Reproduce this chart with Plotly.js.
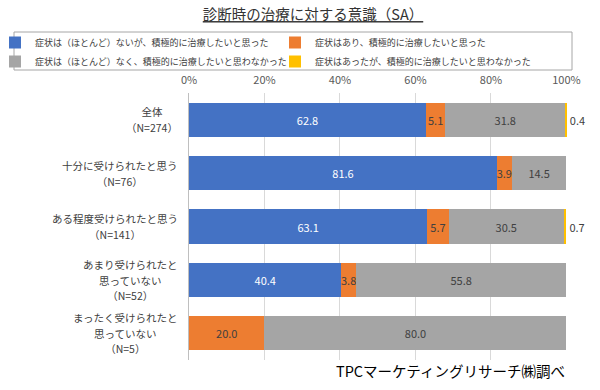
<!DOCTYPE html>
<html><head><meta charset="utf-8">
<script src="https://cdn.plot.ly/plotly-3.0.1.min.js"></script>
<style>body{margin:0;background:#fff}#c{width:600px;height:390px}</style>
</head><body><div id="c"></div>
<script>
const categories = ["全体<br>（N=274）", "十分に受けられたと思う<br>（N=76）", "ある程度受けられたと思う<br>（N=141）", "あまり受けられたと<br>思っていない<br>（N=52）", "まったく受けられたと<br>思っていない<br>（N=5）"];
const seriesNames = ["症状は（ほとんど）ないが、積極的に治療したいと思った", "症状はあり、積極的に治療したいと思った", "症状は（ほとんど）なく、積極的に治療したいと思わなかった", "症状はあったが、積極的に治療したいと思わなかった"];
const noSymptomWant = [62.8, 81.6, 63.1, 40.4, 0];
const symptomWant = [5.1, 3.9, 5.7, 3.8, 20.0];
const noSymptomNotWant = [31.8, 14.5, 30.5, 55.8, 80.0];
const symptomNotWant = [0.4, 0, 0.7, 0, 0];
const tickVals = [0, 20, 40, 60, 80, 100];
const tickText = ["0%", "20%", "40%", "60%", "80%", "100%"];

const colors = ["#4472C4", "#ED7D31", "#A5A5A5", "#FFC000"];
const textColors = ["#ffffff", "#404040", "#404040", "#404040"];
const legendIds = ["legend", "legend2", "legend", "legend2"];
const allSeries = [noSymptomWant, symptomWant, noSymptomNotWant, symptomNotWant];
const font = "'Noto Sans CJK JP', 'Noto Sans', sans-serif";

const traces = allSeries.map((vals, i) => ({
  type: 'bar', orientation: 'h', name: seriesNames[i],
  x: vals, y: categories, legend: legendIds[i],
  marker: {color: colors[i], line: {width: 0}},
  text: vals.map(v => v > 0 ? v.toFixed(1) : ''),
  textposition: i === 3 ? 'outside' : 'inside',
  insidetextanchor: 'middle',
  constraintext: 'none',
  cliponaxis: false,
  textfont: {family: font, size: 11, color: textColors[i]},
  hoverinfo: 'skip'
}));

const px = v => (v - 189) / 378;
const py = v => (360 - v) / 267;

const catAnnotations = categories.map(c => ({
  text: c.split('<br>').map(s => '<span style="font-size:10.5px">' + s + '</span>').join('<br>'),
  xref: 'paper', yref: 'y', x: px(180), xanchor: 'right', y: c, yanchor: 'middle',
  align: 'center', showarrow: false,
  font: {family: font, size: 12, color: '#404040'}
}));

const legendBase = {orientation: 'v', xanchor: 'left', yanchor: 'top', bgcolor: 'rgba(0,0,0,0)', borderwidth: 0, font: {family: font, size: 9, color: '#404040'}, itemwidth: 30, traceorder: 'normal', tracegroupgap: 0};

const layout = {
  width: 600, height: 390,
  margin: {l: 189, r: 33, t: 93, b: 30, autoexpand: false},
  paper_bgcolor: '#fff', plot_bgcolor: '#fff',
  barmode: 'stack', bargap: 0.36,
  font: {family: font, size: 11, color: '#404040'},
  title: {text: '<u>診断時の治療に対する意識（SA）</u>', x: 313/600, xanchor: 'center', y: 1 - 15/390, yanchor: 'middle', yref: 'container', xref: 'container', font: {family: font, size: 14.5, color: '#333333'}},
  xaxis: {side: 'top', range: [0, 100.15], tickvals: tickVals, ticktext: tickText, showgrid: true, gridcolor: '#d9d9d9', zeroline: false, showline: false, ticks: '', ticklabelstandoff: 6, tickfont: {size: 11, color: '#595959'}, fixedrange: true},
  yaxis: {autorange: 'reversed', showline: true, linecolor: '#bfbfbf', ticks: '', showgrid: false, showticklabels: false, fixedrange: true},
  showlegend: true,
  legend: Object.assign({}, legendBase, {x: px(-5), y: py(28)}),
  legend2: Object.assign({}, legendBase, {x: px(275), y: py(28)}),
  shapes: [{type: 'rect', xref: 'paper', yref: 'paper', x0: px(14), x1: px(572), y0: py(32), y1: py(70), line: {color: '#a6a6a6', width: 1}, fillcolor: 'rgba(0,0,0,0)', layer: 'below'}],
  annotations: catAnnotations.concat([{text: 'TPCマーケティングリサーチ㈱調べ', xref: 'paper', yref: 'paper', x: 1, xanchor: 'right', y: -10 / 267, yanchor: 'middle', showarrow: false, font: {family: font, size: 14.5, color: '#000'}}])
};
Plotly.newPlot('c', traces, layout, {displayModeBar: false, staticPlot: true});
</script></body></html>
